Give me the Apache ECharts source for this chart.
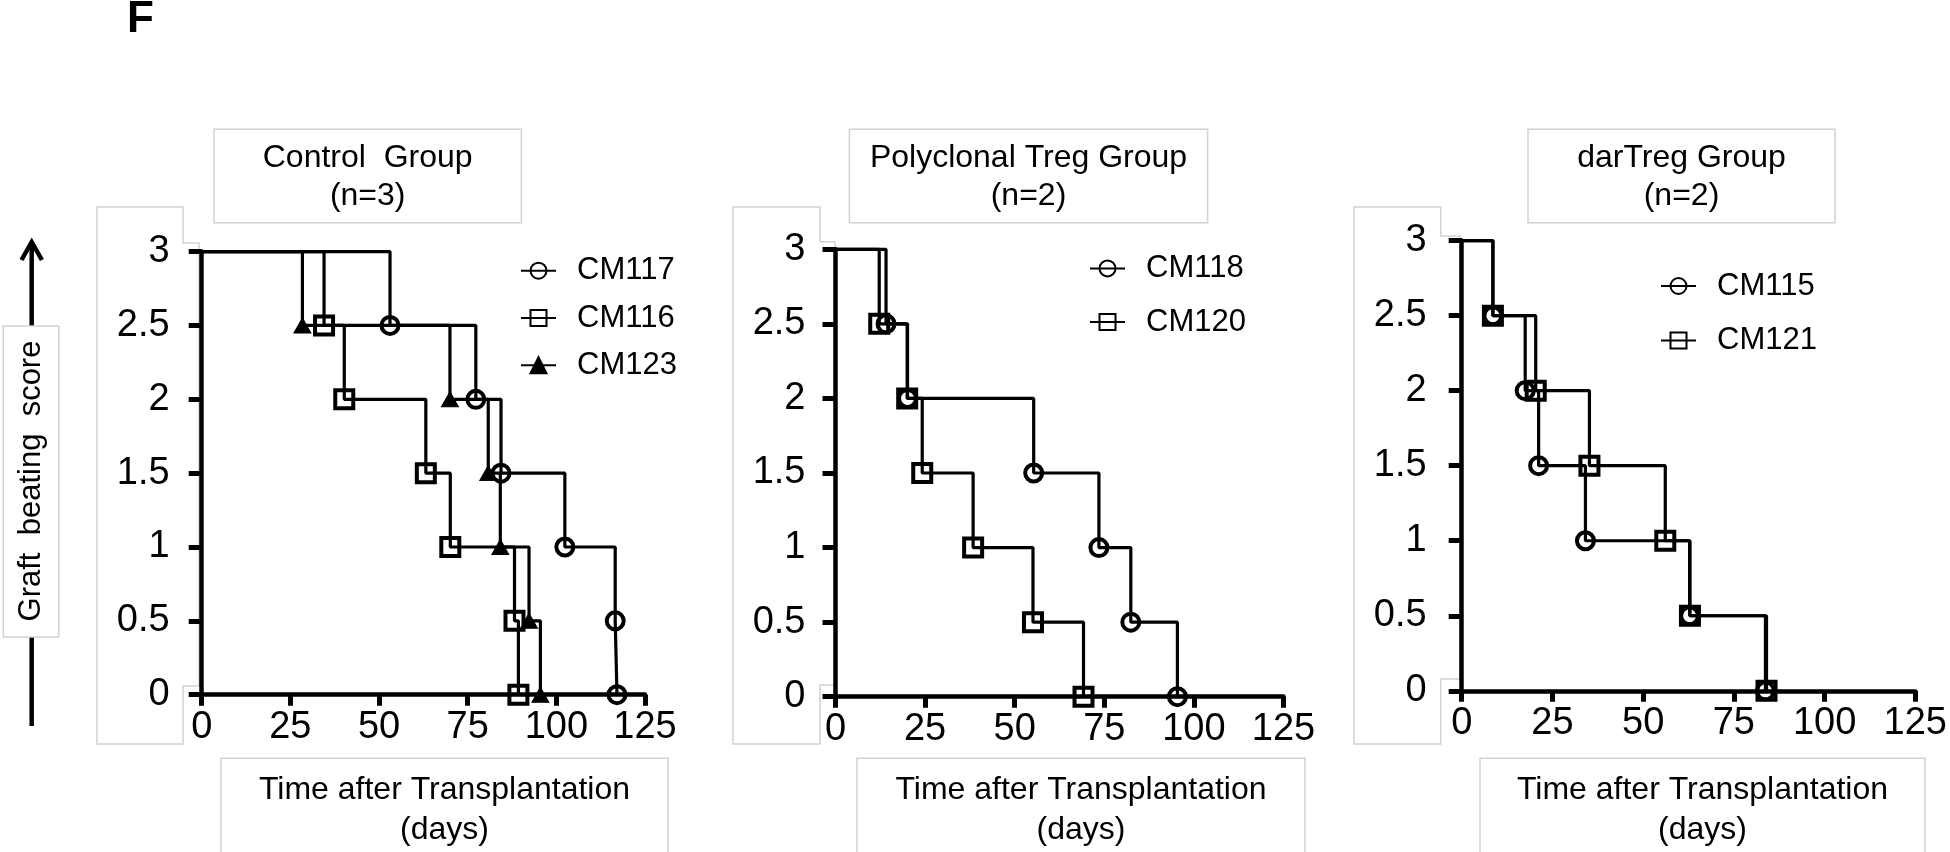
<!DOCTYPE html>
<html><head><meta charset="utf-8">
<script src="https://cdn.jsdelivr.net/npm/echarts@6/dist/echarts.min.js"></script>
<style>html,body{margin:0;padding:0;background:#fff}#c{width:1950px;height:852px}</style>
</head><body><div id="c"></div>
<script>
// ---------- data ----------
const panelLetter = 'F';
const panelTitles = ['Control  Group', 'Polyclonal Treg Group', 'darTreg Group'];
const panelN = ['(n=3)', '(n=2)', '(n=2)'];
const xTitleLines = ['Time after Transplantation', '(days)'];
const yTitle = 'Graft  beating  score';
const xTickLabels = ['0', '25', '50', '75', '100', '125'];
const yTickLabels = ['0', '0.5', '1', '1.5', '2', '2.5', '3'];

// Control group
const cm117Days  = [0, 53.1, 77.3, 84.4, 102.4, 116.6, 117.1];
const cm117Score = [3, 2.5, 2, 1.5, 1, 0.5, 0];
const cm116Days  = [0, 34.5, 40.2, 63.2, 70.1, 88.2, 89.3];
const cm116Score = [3, 2.5, 2, 1.5, 1, 0.5, 0];
const cm123Days  = [0, 28.4, 70.0, 80.8, 84.2, 92.3, 95.5];
const cm123Score = [3, 2.5, 2, 1.5, 1, 0.5, 0];
// Polyclonal Treg group
const cm118Days  = [0, 14.1, 20.1, 55.3, 73.5, 82.4, 95.4];
const cm118Score = [3, 2.5, 2, 1.5, 1, 0.5, 0];
const cm120Days  = [0, 12.2, 20.0, 24.2, 38.4, 55.1, 69.2];
const cm120Score = [3, 2.5, 2, 1.5, 1, 0.5, 0];
// darTreg group
const cm115Days  = [0, 8.6, 17.5, 21.2, 34.1, 62.8, 83.7];
const cm115Score = [3, 2.5, 2, 1.5, 1, 0.5, 0];
const cm121Days  = [0, 8.6, 20.4, 35.2, 56.1, 62.9, 84.0];
const cm121Score = [3, 2.5, 2, 1.5, 1, 0.5, 0];

// ---------- layout / style ----------
const FF = '"Liberation Sans", Arial, Helvetica, sans-serif';
const grids = [
  {left: 201.7, top: 251.6, width: 443.3, height: 443.1},
  {left: 835.5, top: 249.3, width: 448.0, height: 447.4},
  {left: 1461.7, top: 240.6, width: 453.8, height: 450.2}
];
const yLabelMargin = [32, 30, 35];

function xAxisFor(i) {
  return {
    type: 'value', gridIndex: i, min: 0, max: 125, interval: 25,
    axisLine: {show: true, onZero: false, lineStyle: {color: '#000', width: 4.5}},
    axisTick: {show: true, inside: false, length: 11, lineStyle: {color: '#000', width: 5}},
    axisLabel: {show: true, margin: 14, color: '#000', fontSize: 38, fontFamily: FF,
      formatter: function (v) { const k = Math.round(v / 25); return xTickLabels[k] !== undefined ? xTickLabels[k] : String(v); }},
    splitLine: {show: false}
  };
}
function yAxisFor(i) {
  return {
    type: 'value', gridIndex: i, min: 0, max: 3, interval: 0.5,
    axisLine: {show: true, onZero: false, lineStyle: {color: '#000', width: 4.5}},
    axisTick: {show: true, inside: false, length: 13, lineStyle: {color: '#000', width: 5}},
    axisLabel: {show: true, margin: yLabelMargin[i], color: '#000', fontSize: 38, fontFamily: FF,
      formatter: function (v) { const k = Math.round(v / 0.5); return yTickLabels[k] !== undefined ? yTickLabels[k] : String(v); }},
    splitLine: {show: false}
  };
}
function mkSeries(name, days, scores, symbol, filled, gi) {
  const size = symbol === 'triangle' ? [17, 15] : (symbol === 'rect' ? 18 : 17);
  return {
    name: name, type: 'line', xAxisIndex: gi, yAxisIndex: gi, step: 'end', clip: false,
    data: days.map(function (d, i) { return i === 0 ? {value: [d, scores[i]], symbol: 'none'} : [d, scores[i]]; }),
    symbol: symbol, symbolSize: size,
    lineStyle: {color: '#000', width: 3.2},
    itemStyle: filled ? {color: '#000', borderColor: '#000', borderWidth: 1}
                      : {color: 'rgba(255,255,255,0)', borderColor: '#000', borderWidth: 4},
    emphasis: {disabled: true}, z: 3
  };
}
function mkLegend(names, left, top, gap) {
  return {
    data: names, orient: 'vertical', left: left, top: top, padding: 0,
    itemWidth: 35, itemHeight: 20, itemGap: gap, selectedMode: false,
    textStyle: {fontSize: 31, fontFamily: FF, color: '#000', lineHeight: 32, padding: [0, 0, 0, 16]}
  };
}

const GRAY = '#d2d2d2';
const graphics = [];
function box(x1, y1, x2, y2, z) {
  graphics.push({type: 'rect', z: z, silent: true, shape: {x: x1, y: y1, width: x2 - x1, height: y2 - y1},
    style: {fill: '#fff', stroke: GRAY, lineWidth: 1.5}});
}
function txt(s, x, y, size, opt) {
  opt = opt || {};
  graphics.push({type: 'text', z: opt.z || 5, silent: true, x: x, y: y, rotation: opt.rotation || 0,
    style: {text: s, fill: '#000', fontSize: size, fontFamily: FF, fontWeight: opt.weight || 'normal',
      align: opt.align || 'center', verticalAlign: opt.va || 'middle'}});
}
function backdrop(l, r1, r2, top, step1, step2, bottom) {
  graphics.push({type: 'polygon', z: -10, silent: true,
    shape: {points: [[l, top], [r1, top], [r1, step1], [r2, step1], [r2, step2], [r1, step2], [r1, bottom], [l, bottom]]},
    style: {fill: '#fff', stroke: GRAY, lineWidth: 1.5}});
}

// tick-label backdrops
backdrop(97, 183, 199, 207, 243, 686, 744);
backdrop(733, 820, 835, 207, 241.7, 685, 744);
backdrop(1354, 1440.7, 1460, 207, 236, 679, 744);

// title boxes
const titleBoxes = [[214, 521.4], [849.4, 1207.6], [1528, 1835]];
titleBoxes.forEach(function (b, i) {
  box(b[0], 129.3, b[1], 222.7, 1);
  txt(panelTitles[i], (b[0] + b[1]) / 2, 158, 32);
  txt(panelN[i], (b[0] + b[1]) / 2, 196.5, 32);
});

// x-title boxes
const xBoxes = [[221, 668], [857, 1305], [1480, 1925]];
xBoxes.forEach(function (b) {
  box(b[0], 758.3, b[1], 870, 1);
  txt(xTitleLines[0], (b[0] + b[1]) / 2, 790, 32);
  txt(xTitleLines[1], (b[0] + b[1]) / 2, 830, 32);
});

// y title with arrow
graphics.push({type: 'line', z: 1, silent: true, shape: {x1: 31.7, y1: 242, x2: 31.7, y2: 726}, style: {stroke: '#000', lineWidth: 4.5}});
graphics.push({type: 'polyline', z: 1, silent: true, shape: {points: [[21.5, 260], [31.7, 242], [41.9, 260]]}, style: {stroke: '#000', lineWidth: 4.5, fill: null}});
box(3.3, 326, 58.7, 637, 2);
txt(yTitle, 31, 481, 31, {rotation: Math.PI / 2, z: 6});

// panel letter
txt(panelLetter, 127, 20, 44, {align: 'left', va: 'middle', weight: 'bold'});

const option = {
  animation: false,
  backgroundColor: '#fff',
  grid: grids.map(function (g) { return Object.assign({containLabel: false}, g); }),
  xAxis: [xAxisFor(0), xAxisFor(1), xAxisFor(2)],
  yAxis: [yAxisFor(0), yAxisFor(1), yAxisFor(2)],
  legend: [
    mkLegend(['CM117', 'CM116', 'CM123'], 520, 254.7, 15.3),
    mkLegend(['CM118', 'CM120'], 1089, 252.4, 21.7),
    mkLegend(['CM115', 'CM121'], 1660, 270, 22.4)
  ],
  series: [
    mkSeries('CM117', cm117Days, cm117Score, 'circle', false, 0),
    mkSeries('CM116', cm116Days, cm116Score, 'rect', false, 0),
    mkSeries('CM123', cm123Days, cm123Score, 'triangle', true, 0),
    mkSeries('CM118', cm118Days, cm118Score, 'circle', false, 1),
    mkSeries('CM120', cm120Days, cm120Score, 'rect', false, 1),
    mkSeries('CM115', cm115Days, cm115Score, 'circle', false, 2),
    mkSeries('CM121', cm121Days, cm121Score, 'rect', false, 2)
  ],
  graphic: {elements: graphics}
};
const chart = echarts.init(document.getElementById('c'), null, {renderer: 'canvas'});
chart.setOption(option);
</script>
</body></html>
